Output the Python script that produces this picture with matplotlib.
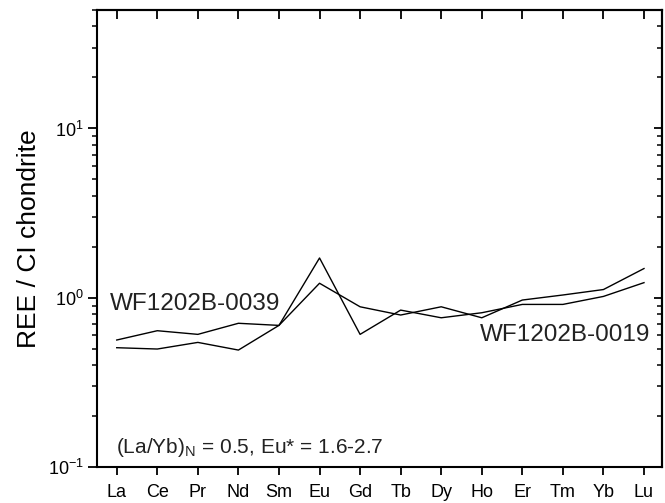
import matplotlib
matplotlib.use("Agg")
import matplotlib.pyplot as plt
from matplotlib.ticker import FixedLocator, LogLocator, NullFormatter

plt.rcParams["font.family"] = ["Liberation Sans", "DejaVu Sans"]
plt.rcParams["mathtext.fontset"] = "custom"
plt.rcParams["mathtext.rm"] = "Liberation Sans"
plt.rcParams["mathtext.it"] = "Liberation Sans:italic"

# chondrite-normalised REE patterns
elements = ["La", "Ce", "Pr", "Nd", "Sm", "Eu", "Gd",
            "Tb", "Dy", "Ho", "Er", "Tm", "Yb", "Lu"]
wf0039 = [0.564, 0.640, 0.609, 0.708, 0.688, 1.22, 0.886,
          0.792, 0.886, 0.763, 0.971, 1.04, 1.12, 1.49]
wf0019 = [0.508, 0.499, 0.546, 0.492, 0.688, 1.72, 0.609,
          0.847, 0.763, 0.817, 0.915, 0.915, 1.02, 1.23]
ratio_note = r"(La/Yb)$_\mathrm{N}$ = 0.5, Eu* = 1.6-2.7"

fig = plt.figure(figsize=(6.65, 5.03), dpi=100)
ax = fig.add_axes([0.1459, 0.071, 0.8496, 0.909])

x = list(range(len(elements)))
ax.plot(x, wf0039, color="black", lw=1.0)
ax.plot(x, wf0019, color="black", lw=1.0)

ax.set_yscale("log")
ax.set_ylim(0.1, 50)
ax.set_xlim(-0.486, len(elements) - 1 + 0.444)

ax.set_xticks(x)
ax.set_xticklabels(elements, fontsize=13)
ax.yaxis.set_major_locator(FixedLocator([0.1, 1, 10]))
ax.set_yticklabels([r"$10^{-1}$", r"$10^{0}$", r"$10^{1}$"], fontsize=13)
ax.yaxis.set_minor_locator(LogLocator(base=10, subs=range(2, 10)))
ax.yaxis.set_minor_formatter(NullFormatter())

for s in ax.spines.values():
    s.set_linewidth(1.5)
ax.tick_params(axis="x", which="major", direction="out", length=6, width=1.3, pad=6)
ax.tick_params(axis="y", which="major", direction="out", length=6.5, width=1.3, pad=3)
ax.tick_params(axis="y", which="minor", direction="out", length=3.6, width=1.1)

# mirrored ticks on top and right, pointing inward
top = ax.secondary_xaxis("top")
top.set_xticks(x)
top.set_xticklabels([])
top.tick_params(direction="in", length=6.5, width=1.3)
top.spines["top"].set_linewidth(1.5)

right = ax.secondary_yaxis("right")
right.set_yscale("log")
right.yaxis.set_major_locator(FixedLocator([0.1, 1, 10]))
right.yaxis.set_minor_locator(LogLocator(base=10, subs=range(2, 10)))
right.yaxis.set_major_formatter(NullFormatter())
right.yaxis.set_minor_formatter(NullFormatter())
right.tick_params(which="major", direction="in", length=6, width=1.3)
right.tick_params(which="minor", direction="in", length=3.6, width=1.1)
right.spines["right"].set_linewidth(1.5)

ax.set_ylabel("REE / CI chondrite", fontsize=19, labelpad=5)

ax.text(-0.165, 0.919, "WF1202B-0039", fontsize=17.5, color="#222222",
        ha="left", va="center")
ax.text(13.15, 0.603, "WF1202B-0019", fontsize=17.5, color="#222222",
        ha="right", va="center")
ax.text(0.034, 0.031, ratio_note, transform=ax.transAxes, fontsize=15,
        color="#222222", ha="left", va="baseline")

fig.savefig("out.png", dpi=100)
